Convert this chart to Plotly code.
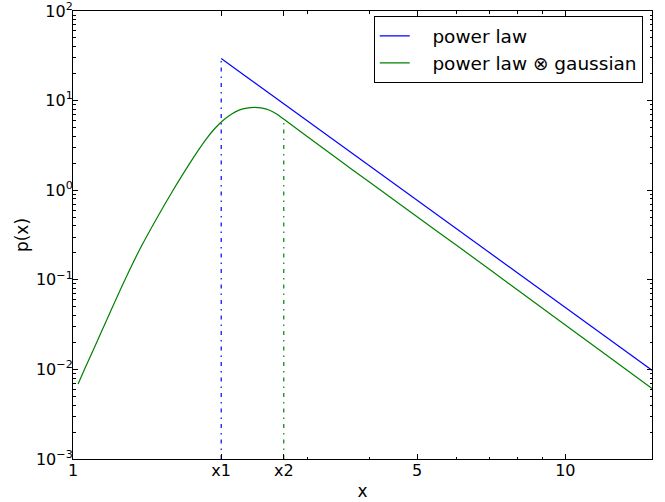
import math
import plotly.graph_objects as go

# ---- data ----
power_x = [2.0, 3.0, 4.0, 6.1, 8.0, 10.0, 15.0]
power_y = [29.5, 5.89, 1.875, 0.351, 0.1193, 0.0491, 0.0098]

conv_x = [1.024, 1.056, 1.145, 1.273, 1.366, 1.477, 1.597, 1.726, 1.795, 1.866, 1.937,
          2.011, 2.101, 2.181, 2.253, 2.339, 2.409, 2.509, 2.593, 2.670, 3.0, 3.5, 4.0,
          5.0, 6.1, 8.0, 10.0, 12.0, 15.0]
conv_y = [0.00686, 0.0101, 0.0271, 0.098, 0.218, 0.478, 1.00, 1.99, 2.77, 3.75, 4.82,
          5.92, 7.10, 7.87, 8.24, 8.41, 8.30, 7.81, 7.08, 6.31, 3.92, 2.10, 1.232,
          0.505, 0.229, 0.0770, 0.0313, 0.01504, 0.00613]

x1_val = 2.0
x2_val = 2.68
x1_top = 29.5
x2_top = 6.1
y_floor = 0.001

x_tickvals = [1, x1_val, x2_val, 5, 10]
x_ticktext = ["1", "x1", "x2", "5", "10"]
x_minor = [3, 4, 6, 7, 8, 9]
y_exps = [-3, -2, -1, 0, 1, 2]

names = ["power law", "power law \u2297 gaussian"]

BLUE = "#0000ff"
GREEN = "#008000"
FONT = "DejaVu Sans"
PAD = "\u00a0\u00a0\u00a0"

fig = go.Figure()

fig.add_trace(go.Scatter(x=[x1_val, x1_val], y=[y_floor, x1_top], mode="lines",
                         line=dict(color=BLUE, width=1.2, dash="4px,5px,1.5px,5px"),
                         showlegend=False, hoverinfo="skip"))
fig.add_trace(go.Scatter(x=[x2_val, x2_val], y=[y_floor, x2_top], mode="lines",
                         line=dict(color=GREEN, width=1.2, dash="4px,5px,1.5px,5px"),
                         showlegend=False, hoverinfo="skip"))

fig.add_trace(go.Scatter(x=power_x, y=power_y, mode="lines", name=PAD + names[0],
                         line=dict(color=BLUE, width=1.2)))
fig.add_trace(go.Scatter(x=conv_x, y=conv_y, mode="lines", name=PAD + names[1],
                         line=dict(color=GREEN, width=1.2, shape="spline", smoothing=1.0)))

y_tickvals = [10.0 ** e for e in y_exps]
y_ticktext = ["10<sup>%s</sup>" % (str(e).replace("-", "\u2212")) for e in y_exps]
y_minor = [m * 10.0 ** e for e in y_exps[:-1] for m in range(2, 10)]

axis_common = dict(
    type="log", showgrid=False, zeroline=False, showline=True, linecolor="black",
    linewidth=1, mirror="ticks", ticks="inside", ticklen=5, tickwidth=1, automargin=False,
    ticklabeloverflow="allow",
    tickcolor="black", tickfont=dict(family=FONT, size=16, color="black"),
)

fig.update_layout(
    width=665, height=502,
    margin=dict(l=73, r=13, t=11, b=43),
    paper_bgcolor="white", plot_bgcolor="white",
    font=dict(family=FONT, size=16, color="black"),
    xaxis=dict(axis_common, range=[0, math.log10(15)], tickmode="array",
               tickvals=x_tickvals, ticktext=x_ticktext, ticklabelstandoff=-3,
               minor=dict(tickmode="array", tickvals=x_minor, ticks="inside",
                          ticklen=2.5, tickcolor="black"),
               title=dict(text="x", font=dict(family=FONT, size=17, color="black"), standoff=5)),
    yaxis=dict(axis_common, range=[-3, 2], tickmode="array",
               tickvals=y_tickvals, ticktext=y_ticktext, ticklabelstandoff=-4,
               minor=dict(tickmode="array", tickvals=y_minor, ticks="inside",
                          ticklen=2.5, tickcolor="black"),
               title=dict(text="p(x)", font=dict(family=FONT, size=17, color="black"), standoff=2)),
    legend=dict(x=0.984, y=0.988, xanchor="right", yanchor="top",
                bordercolor="black", borderwidth=1, bgcolor="white",
                font=dict(family=FONT, size=18.5, color="black")),
)

fig.write_html("out.html")
